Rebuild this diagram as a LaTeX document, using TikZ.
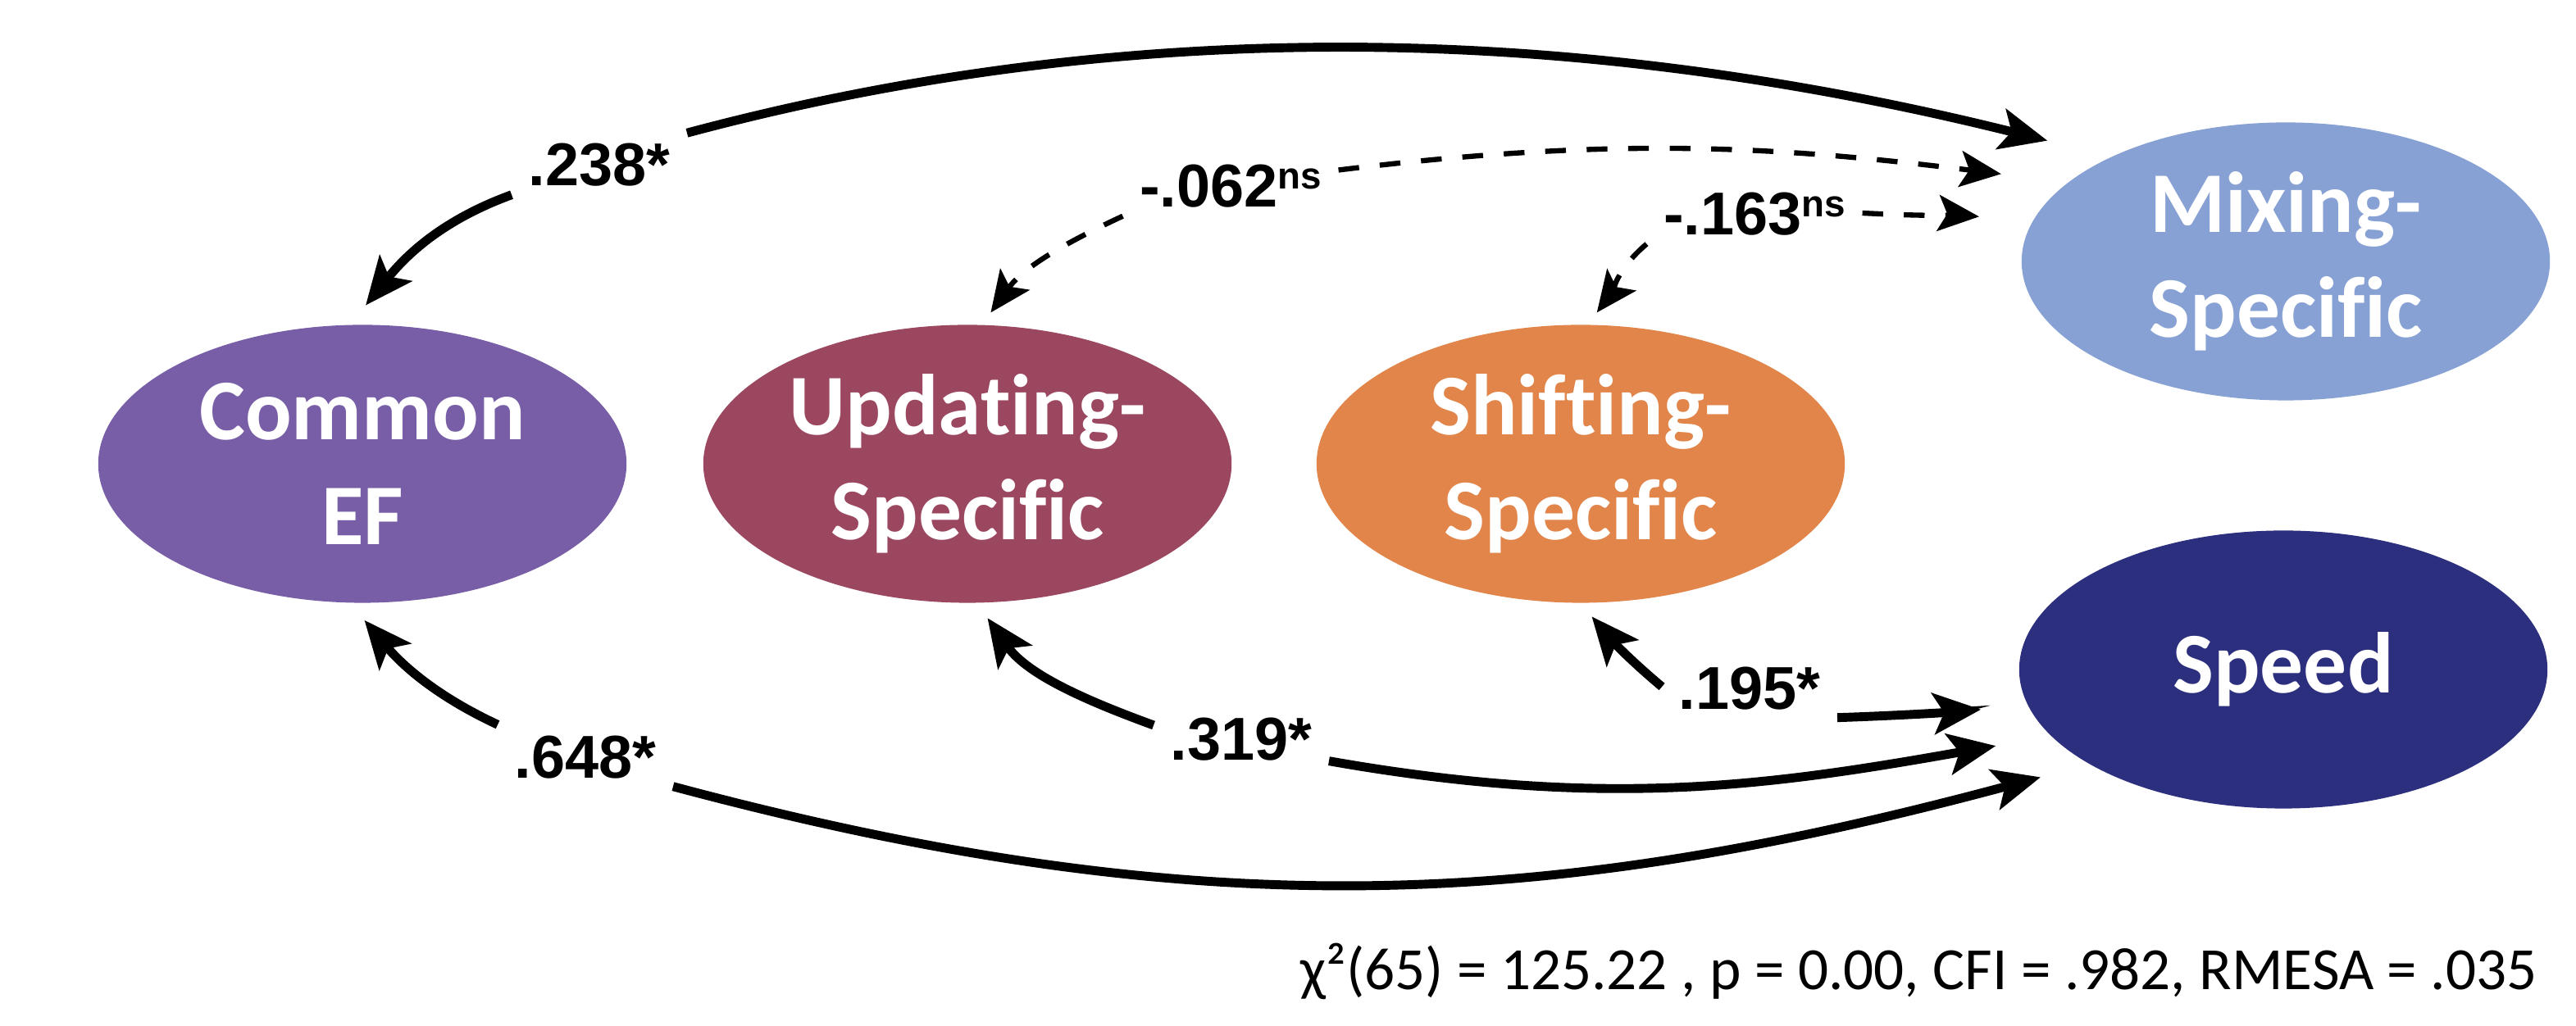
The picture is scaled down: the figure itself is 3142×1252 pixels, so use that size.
\documentclass[tikz,border=0pt]{standalone}
\usepackage{fontspec}
\setmainfont{Carlito}[Ligatures=NoCommon]
\newfontfamily\lblfont{Liberation Sans}
\usetikzlibrary{shapes.geometric,arrows.meta}
\definecolor{commonC}{HTML}{775EA6}
\definecolor{updC}{HTML}{9B4760}
\definecolor{shiftC}{HTML}{E1854A}
\definecolor{mixC}{HTML}{87A1D4}
\definecolor{speedC}{HTML}{2C2E7E}
\begin{document}
\begin{tikzpicture}[x=0.01cm, y=0.01cm,
	factor/.style={ellipse, minimum width=6.44cm, minimum height=3.39cm, inner sep=0pt, text=white, align=center, font=\fontsize{30}{36.4}\selectfont\bfseries},
	lbl/.style={inner xsep=0.2cm, inner ysep=0.1cm, text height=0.54cm, text depth=0pt, font=\lblfont\fontsize{21}{25}\selectfont\bfseries},
	arr/.style={line width=3.1pt, -{Stealth[length=5.8mm, width=5mm, inset=1.3mm]}},
	darr/.style={line width=1.8pt, dash pattern=on 7.2pt off 7.2pt, -{Stealth[length=5mm, width=4.4mm, inset=1.1mm]}}]
	\useasboundingbox (0,0) rectangle (3142,1252);
	% latent factors
	\node[factor, fill=commonC] (common) at (442,686) {Common\\EF};
	\node[factor, fill=updC] (updating) at (1180,686) {Updating-\\Specific};
	\node[factor, fill=shiftC] (shifting) at (1928,686) {Shifting-\\Specific};
	\node[factor, fill=mixC] (mixing) at (2788,933) {Mixing-\\Specific};
	\node[factor, fill=speedC] (speed) at (2785,435) {Speed};
	% correlations
	\node[lbl] (l238) at (731,1052) {.238*};
	\node[lbl] (l062) at (1501,1026) {-.062\raisebox{6.5pt}{\fontsize{13}{13}\selectfont ns}};
	\node[lbl] (l163) at (2140,992) {-.163\raisebox{6.5pt}{\fontsize{13}{13}\selectfont ns}};
	\node[lbl] (l648) at (714,330) {.648*};
	\node[lbl] (l319) at (1514,352) {.319*};
	\node[lbl] (l195) at (2134,414) {.195*};
	\draw[arr, shorten >=0.3cm] (l238.south west) to[out=200, in=51] (common.95);
	\draw[arr, shorten >=0.8cm] (l238.north east) to[out=15, in=166, looseness=0.9] (mixing.149);
	\draw[darr, shorten >=0.18cm] (l062.south west) to[out=205, in=54] (updating.84);
	\draw[darr, shorten >=0.82cm] (l062.8) to[out=7, in=173] (mixing.160);
	\draw[darr, shorten >=0.18cm] (l163.south west) to[out=220, in=53] (shifting.87);
	\draw[darr, shorten >=0.65cm] (l163.east) to[out=-3, in=175] (mixing.171);
	\draw[arr, shorten >=0.27cm] (l648.north west) to[out=155, in=-50] (common.-95);
	\draw[arr, shorten >=0.61cm] (l648.south east) to[out=-15, in=195] (speed.206);
	\draw[arr, shorten >=0.22cm] (l319.172) to[out=160, in=-55] (updating.-86);
	\draw[arr, shorten >=0.68cm] (l319.-15) to[out=-10, in=190] (speed.196);
	\draw[arr, shorten >=0.21cm] (l195.west) to[out=140, in=-50] (shifting.south);
	\draw[arr, shorten >=0.57cm] (l195.south east) to[out=2, in=185] (speed.188);
	% fit
	\node[anchor=base east, font=\fontsize{20.8}{25}\selectfont] (fit) at (3107,44) {χ²(65) = 125.22 , p = 0.00, CFI = .982, RMESA = .035};
\end{tikzpicture}
\end{document}
